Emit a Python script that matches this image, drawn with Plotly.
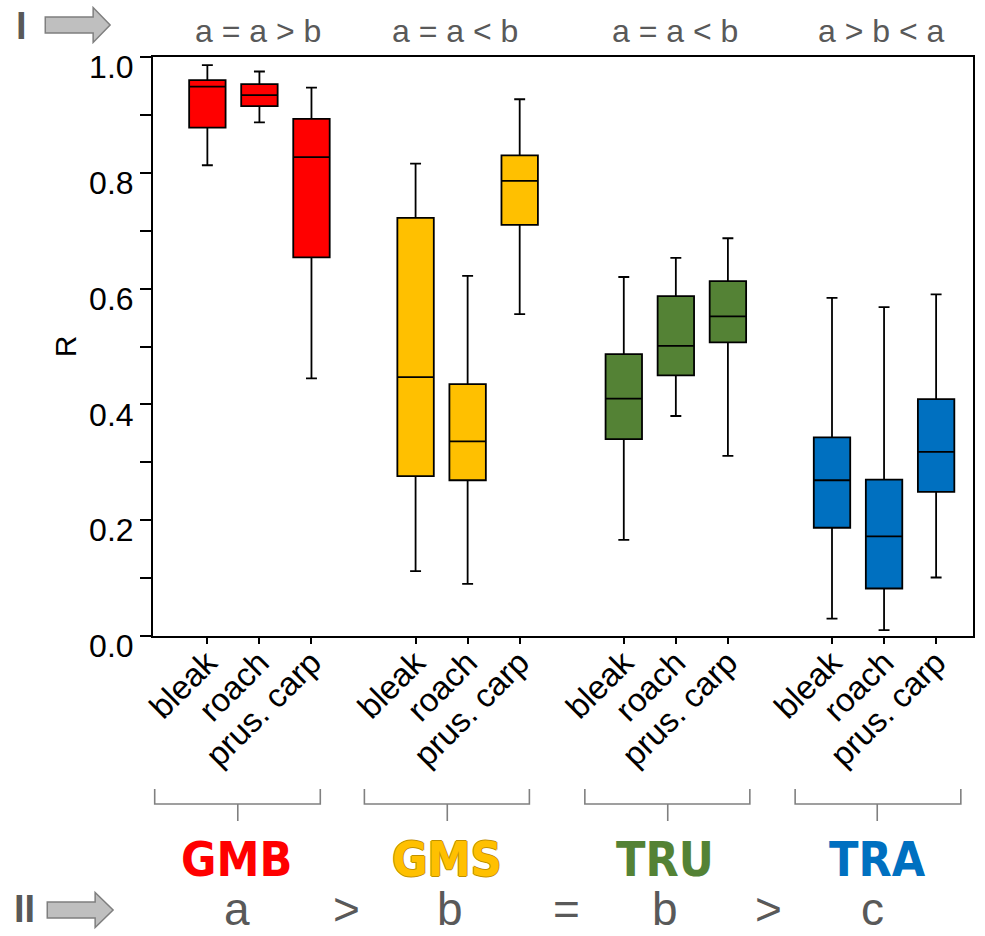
import plotly.graph_objects as go

# ---------------- data ----------------
groups = ["GMB", "GMS", "TRU", "TRA"]
species = ["bleak", "roach", "prus. carp"]
group_colors = ["#FF0000", "#FFC000", "#548235", "#0070C0"]

# rows = groups, columns = species (bleak, roach, prus. carp)
upper_whisker = [[0.986, 0.975, 0.947],
                 [0.816, 0.622, 0.927],
                 [0.620, 0.653, 0.687],
                 [0.584, 0.568, 0.590]]
q3_values = [[0.960, 0.953, 0.893],
             [0.722, 0.435, 0.830],
             [0.487, 0.587, 0.613],
             [0.343, 0.270, 0.409]]
median_values = [[0.949, 0.934, 0.827],
                 [0.447, 0.336, 0.786],
                 [0.410, 0.501, 0.552],
                 [0.269, 0.172, 0.318]]
q1_values = [[0.878, 0.915, 0.654],
             [0.276, 0.269, 0.710],
             [0.340, 0.450, 0.507],
             [0.187, 0.082, 0.249]]
lower_whisker = [[0.813, 0.887, 0.445],
                 [0.112, 0.090, 0.556],
                 [0.166, 0.380, 0.311],
                 [0.030, 0.010, 0.101]]

top_relations = ["a = a > b", "a = a < b", "a = a < b", "a > b < a"]
bottom_relation = ["a", ">", "b", "=", "b", ">", "c"]
y_ticks = [0.0, 0.2, 0.4, 0.6, 0.8, 1.0]

# ---------------- layout helpers ----------------
W, H = 985, 936
ML, MR, MT, MB = 153, 10, 57, 300
PW, PH = W - ML - MR, H - MT - MB


def px(xp):
    return (xp - ML) / PW


def py(yp):
    return (MT + PH - yp) / PH


FONT = "Liberation Sans, Arial, sans-serif"
NARROW = "Liberation Sans Narrow, Arial Narrow, DejaVu Sans Condensed, sans-serif"
GRAY = "#595959"

fig = go.Figure()
tickvals, ticktext = [], []
for g, grp in enumerate(groups):
    for s, sp in enumerate(species):
        pos = 4 * g + s
        tickvals.append(pos)
        ticktext.append(sp)
        fig.add_trace(go.Box(
            x=[pos],
            q1=[q1_values[g][s]], median=[median_values[g][s]], q3=[q3_values[g][s]],
            lowerfence=[lower_whisker[g][s]], upperfence=[upper_whisker[g][s]],
            fillcolor=group_colors[g], line=dict(color="black", width=1.8),
            width=0.70, whiskerwidth=0.3, boxpoints=False, showlegend=False,
            name=f"{grp} {sp}", hoverinfo="y",
        ))

annotations = []
# top relation labels
top_x = [258, 456, 676, 883]
for rel, xp in zip(top_relations, top_x):
    annotations.append(dict(text=rel, x=px(xp), y=py(31), xref="paper", yref="paper",
                            showarrow=False, xanchor="center", yanchor="middle",
                            font=dict(family=FONT, size=32, color=GRAY)))
# group labels
grp_x = [237, 448, 666, 879]
for g, (grp, xp) in enumerate(zip(groups, grp_x)):
    f = dict(family=NARROW, size=48, color=group_colors[g], weight="bold")
    if grp == "GMS":
        c = "#BF9000"
        f["shadow"] = f"1px 0 0 {c}, -1px 0 0 {c}, 0 1px 0 {c}, 0 -1px 0 {c}"
    annotations.append(dict(text=f"<b>{grp}</b>", x=px(xp), y=py(859), xref="paper", yref="paper",
                            showarrow=False, xanchor="center", yanchor="middle", font=f))
# bottom relation row
bot_x = [237, 347, 451, 568, 666, 770, 874]
for ch, xp in zip(bottom_relation, bot_x):
    annotations.append(dict(text=ch, x=px(xp), y=py(909), xref="paper", yref="paper",
                            showarrow=False, xanchor="center", yanchor="middle",
                            font=dict(family=FONT, size=46, color=GRAY)))
# roman numerals
annotations.append(dict(text="<b>I</b>", x=px(21), y=py(26), xref="paper", yref="paper",
                        showarrow=False, xanchor="center", yanchor="middle",
                        font=dict(family=FONT, size=38, color=GRAY)))
annotations.append(dict(text="<b>II</b>", x=px(24), y=py(909), xref="paper", yref="paper",
                        showarrow=False, xanchor="center", yanchor="middle",
                        font=dict(family=FONT, size=38, color=GRAY)))

shapes = []
# brackets
brackets = [(154.7, 320.7, 238), (364.9, 530.3, 448), (585.9, 751.3, 669), (796.7, 962.8, 879)]
yt, yh, yk = 789, 804, 821
for x0, x1, xc in brackets:
    path = (f"M{px(x0)},{py(yt)} L{px(x0)},{py(yh)} L{px(x1)},{py(yh)} L{px(x1)},{py(yt)} "
            f"M{px(xc)},{py(yh)} L{px(xc)},{py(yk)}")
    shapes.append(dict(type="path", path=path, xref="paper", yref="paper",
                       line=dict(color="#808080", width=1.6)))


def arrow(x0, xb, xt, yc, hb, hh):
    pts = [(x0, yc - hb), (xb, yc - hb), (xb, yc - hh), (xt, yc), (xb, yc + hh), (xb, yc + hb), (x0, yc + hb)]
    return "M" + " L".join(f"{px(a)},{py(b)}" for a, b in pts) + " Z"


for (x0, xb, xt, yc) in [(45, 93, 110, 25), (47, 95, 113, 910)]:
    shapes.append(dict(type="path", path=arrow(x0, xb, xt, yc, 8, 17.5), xref="paper", yref="paper",
                       fillcolor="#BFBFBF", line=dict(color="#7F7F7F", width=1.5)))

x_lo = -(207.5 - ML) / 52.18
x_hi = x_lo + PW / 52.18

fig.update_layout(
    width=W, height=H,
    margin=dict(l=ML, r=MR, t=MT, b=MB, pad=0),
    paper_bgcolor="white", plot_bgcolor="white",
    font=dict(family=FONT, color="black"),
    annotations=annotations, shapes=shapes,
    xaxis=dict(range=[x_lo, x_hi], tickvals=tickvals, ticktext=ticktext, tickangle=-45,
               ticks="outside", ticklen=6, tickwidth=1.5, tickcolor="black",
               tickfont=dict(family=FONT, size=33, color="black"),
               ticklabelstandoff=-14,
               showline=True, mirror=True, linecolor="black", linewidth=2,
               showgrid=False, zeroline=False),
    yaxis=dict(range=[0, 1], tickvals=y_ticks, tickformat=".1f",
               ticks="outside", ticklen=11, tickwidth=1.5, tickcolor="black",
               tickfont=dict(family=FONT, size=32, color="black"),
               ticklabelshift=10,
               minor=dict(dtick=0.1, ticks="outside", ticklen=11, tickwidth=1.5, tickcolor="black",
                          showgrid=False),
               showline=True, mirror=True, linecolor="black", linewidth=2,
               showgrid=False, zeroline=False,
               title=dict(text="R", font=dict(family=FONT, size=30, color="black"), standoff=4)),
)

fig.write_html("out.html", config={"displayModeBar": False},
               post_script="document.body.style.margin='0';document.body.style.overflow='hidden';")
